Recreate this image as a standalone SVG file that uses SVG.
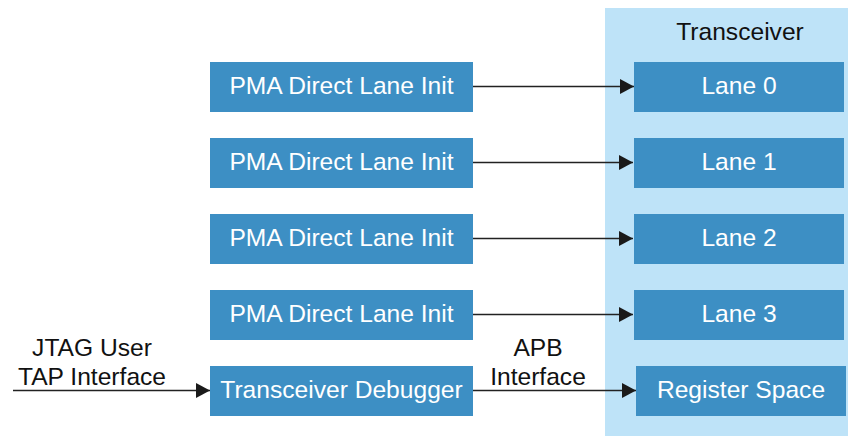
<svg xmlns="http://www.w3.org/2000/svg" width="852" height="436" viewBox="0 0 852 436">
  <style>
    .box { fill: #3d8fc4; }
    .lbl { font-family: "Liberation Sans", Arial, sans-serif; font-size: 24.6px; fill: #ffffff; text-anchor: middle; }
    .txt { font-family: "Liberation Sans", Arial, sans-serif; font-size: 24.6px; fill: #111111; text-anchor: middle; }
    .wire { stroke: #222222; stroke-width: 1.3; fill: none; marker-end: url(#arrow); }
  </style>
  <defs>
    <marker id="arrow" markerWidth="14" markerHeight="15" refX="14" refY="7.5" orient="auto" markerUnits="userSpaceOnUse">
      <path d="M0,0 L14,7.5 L0,15 Z" fill="#1a1a1a"/>
    </marker>
  </defs>

  <rect width="852" height="436" fill="#ffffff"/>

  <g id="transceiver">
    <rect x="605" y="8" width="243" height="428" fill="#bee3f8"/>
    <text class="txt" x="740" y="40">Transceiver</text>
  </g>

  <g id="init0"><rect class="box" x="210" y="62" width="263" height="50"/><text class="lbl" x="341.5" y="94">PMA Direct Lane Init</text></g>
  <g id="init1"><rect class="box" x="210" y="138" width="263" height="50"/><text class="lbl" x="341.5" y="170">PMA Direct Lane Init</text></g>
  <g id="init2"><rect class="box" x="210" y="214" width="263" height="50"/><text class="lbl" x="341.5" y="246">PMA Direct Lane Init</text></g>
  <g id="init3"><rect class="box" x="210" y="290" width="263" height="50"/><text class="lbl" x="341.5" y="322">PMA Direct Lane Init</text></g>
  <g id="debugger"><rect class="box" x="210" y="366" width="263" height="50"/><text class="lbl" x="341.5" y="398">Transceiver Debugger</text></g>

  <g id="lane0"><rect class="box" x="634" y="62" width="210" height="50"/><text class="lbl" x="739" y="94">Lane 0</text></g>
  <g id="lane1"><rect class="box" x="634" y="138" width="210" height="50"/><text class="lbl" x="739" y="170">Lane 1</text></g>
  <g id="lane2"><rect class="box" x="634" y="214" width="210" height="50"/><text class="lbl" x="739" y="246">Lane 2</text></g>
  <g id="lane3"><rect class="box" x="634" y="290" width="210" height="50"/><text class="lbl" x="739" y="322">Lane 3</text></g>
  <g id="regspace"><rect class="box" x="636" y="366" width="210" height="50"/><text class="lbl" x="741" y="398">Register Space</text></g>

  <g id="connectors">
    <line class="wire" x1="473" y1="86.5" x2="634" y2="86.5"/>
    <line class="wire" x1="473" y1="162.5" x2="633" y2="162.5"/>
    <line class="wire" x1="473" y1="238.5" x2="633" y2="238.5"/>
    <line class="wire" x1="473" y1="314.5" x2="633" y2="314.5"/>
    <line class="wire" x1="473" y1="390.5" x2="636" y2="390.5"/>
    <line class="wire" x1="13" y1="390.5" x2="210" y2="390.5"/>
    <text class="txt" x="92" y="356">JTAG User</text>
    <text class="txt" x="92" y="385">TAP Interface</text>
    <text class="txt" x="538" y="356">APB</text>
    <text class="txt" x="538" y="385">Interface</text>
  </g>
</svg>
